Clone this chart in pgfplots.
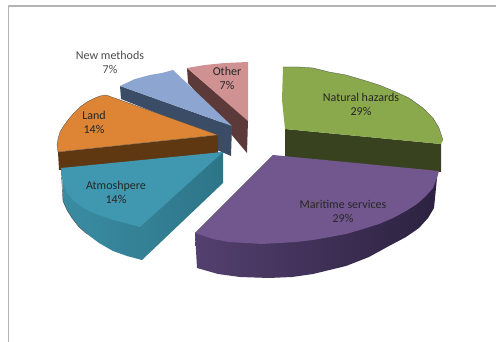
\documentclass[border=0pt]{standalone}
\usepackage{fontspec}
\setmainfont{Carlito}
\usepackage{pgfplots}
\pgfplotsset{compat=1.18}
\definecolor{grnT}{HTML}{8AA94C}\definecolor{grnS}{HTML}{38421F}
\definecolor{purT}{HTML}{72578F}\definecolor{purA}{HTML}{54406F}\definecolor{purM}{HTML}{35294B}\definecolor{purB}{HTML}{2C2240}
\definecolor{tealT}{HTML}{3F98B0}\definecolor{tealA}{HTML}{3A8CA3}\definecolor{tealB}{HTML}{2E7588}
\definecolor{orgT}{HTML}{DD8535}\definecolor{orgS}{HTML}{5F3812}
\definecolor{bluT}{HTML}{8CA5D1}\definecolor{bluS}{HTML}{3B4D66}
\definecolor{pnkT}{HTML}{CF9191}\definecolor{pnkS}{HTML}{5C3A3A}
\definecolor{frameC}{HTML}{B4B4B4}
\tikzset{lab/.style={font=\fontsize{12}{14}\selectfont, text=black!85, align=center, inner sep=0pt}}
\begin{document}
\begin{tikzpicture}[x=1pt,y=1pt]
\begin{axis}[
  scale only axis, width=496pt, height=342pt,
  xmin=0, xmax=496, ymin=0, ymax=342, y dir=reverse,
  hide axis, clip=true,
  every axis plot/.append style={line join=round},
]
% page background and chart frame
\addplot[fill=white, draw=none] coordinates {(0,0)(496,0)(496,342)(0,342)};
\addplot[frameC, line width=1.1pt] coordinates {(8.5,342)(8.5,6)(496,6)};

% Other
\addplot[fill=pnkS, draw=none] coordinates {(187,68)(188,83)(247,153)(248,120)};
\addplot[fill=pnkT, draw=none] coordinates {(187,68)(205,65)(225,63)(248,62)(248,121)};

% New methods
\addplot[fill=bluS, draw=none] coordinates {(120,86)(121,99)(217,137)(217,150)(231,156)(232,126)};
\addplot[fill=bluT, draw=none] coordinates {(120,86)(135,79)(150,75)(162,73)(173,70)(232,126)};

% Land
\addplot[fill=orgS, draw=none] coordinates {(58,152)(59,170)(218,154)(218,135)};
\addplot[fill=orgT, draw=black!70, line width=0.3pt] coordinates {(106,95)(100,96)(95,98)(87,102)(80,107)(73,114)(68,120)(63,127)(60,132)(58,139)(57,145)(58,152)(218,135)} --cycle;

% Atmosphere
\addplot[left color=tealA, right color=tealB, draw=none] coordinates {(62,170)(63,201)(67,210)(72,218)(79,227)(87,234)(99,243)(113,251)(127,256)(142,260)(223,183)(223,152)};
\addplot[fill=tealT, draw=none] coordinates {(61,168)(62,178)(67,193)(74,201)(83,208)(96,214)(110,219)(125,223)(140,227)(223,152)};
\addplot[black!70, line width=0.4pt] coordinates {(61,168)(63,201)(67,210)(72,218)(79,227)(87,234)};

% Natural hazards
\addplot[fill=grnS, draw=none] coordinates {(285,129)(285,157)(441,172)(441,144)};
\addplot[fill=grnT, draw=none] coordinates {(283,67)(299,67)(313,68)(329,72)(346,75)(363,80)(379,85)(396,92)(409,98)(423,108)(433,118)(439,128)(443,140)(441,144)(285,129)(282,100)};
\addplot[black!70, line width=0.3pt] coordinates {(283,67)(299,67)(313,68)(329,72)(346,75)(363,80)(379,85)(396,92)(409,98)(423,108)(433,118)(439,128)(443,140)};

% Maritime services
\addplot[left color=purA, middle color=purM, right color=purB, draw=none] coordinates {(195,233)(197,268)(218,274)(240,277)(269,278)(292,277)(313,274)(346,266)(369,257)(389,246)(406,237)(419,228)(428,218)(434,208)(437,178)(330,220)};
\addplot[fill=purT, draw=none] coordinates {(273,155)(439,171)(437,178)(433,188)(426,196)(417,204)(406,211)(393,218)(379,224)(363,229)(346,234)(330,237)(313,240)(296,242)(279,243)(262,244)(246,243)(229,242)(213,239)(195,233)};
\addplot[black!70, line width=0.3pt] coordinates {(195,233)(273,155)};

% Slice labels
\node[lab, text=black!70] at (axis cs:110,62) {New methods\\7\%};
\node[lab] at (axis cs:227,78) {Other\\7\%};
\node[lab] at (axis cs:94,122) {Land\\14\%};
\node[lab] at (axis cs:361,104) {Natural hazards\\29\%};
\node[lab] at (axis cs:343,211) {Maritime services\\29\%};
\node[lab] at (axis cs:116,192) {Atmoshpere\\14\%};
\end{axis}
\end{tikzpicture}
\end{document}
